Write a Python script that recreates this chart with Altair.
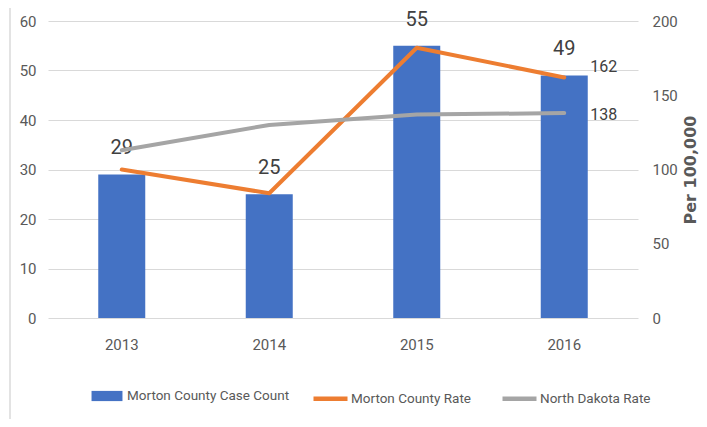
import altair as alt
import pandas as pd

years = ["2013", "2014", "2015", "2016"]
case_counts = [29, 25, 55, 49]
morton_rate = [100, 84, 182, 162]
nd_rate = [113, 130, 137, 138]

s_bar = "Morton County Case Count"
s_mc = "Morton County Rate"
s_nd = "North Dakota Rate"

bar_df = pd.DataFrame({"year": years, "count": case_counts, "series": s_bar})
line_df = pd.DataFrame({
    "year": years + years,
    "rate": morton_rate + nd_rate,
    "series": [s_mc] * 4 + [s_nd] * 4,
})

FONT = "Roboto"
GRAY = "#595959"

x_enc = alt.X("year:N", title=None,
              scale=alt.Scale(paddingInner=0.68, paddingOuter=0.34),
              axis=alt.Axis(labelAngle=0, labelPadding=19, domain=False, ticks=False, grid=False))

left_axis = alt.Axis(values=[0, 10, 20, 30, 40, 50, 60], grid=True, labelPadding=12,
                     domain=False, ticks=False, title=None)
y_left = alt.Y("count:Q", scale=alt.Scale(domain=[0, 60], nice=False), axis=left_axis)

right_axis = alt.Axis(values=[0, 50, 100, 150, 200], grid=False, orient="right", labelPadding=14,
                      domain=False, ticks=False, title="Per 100,000",
                      titleFont="DejaVu Sans", titleFontWeight="bold", titleFontSize=16,
                      titleColor=GRAY, titleAngle=270, titleBaseline="top", titlePadding=5)
y_right = alt.Y("rate:Q", scale=alt.Scale(domain=[0, 200], nice=False), axis=right_axis)

fill_enc = alt.Fill(
    "series:N",
    scale=alt.Scale(domain=[s_bar], range=["#4472C4"]),
    legend=alt.Legend(
        title=None, orient="none", direction="horizontal", legendX=42, legendY=358,
        symbolType="M-0.91,-0.3L0.91,-0.3L0.91,0.3L-0.91,0.3Z", symbolSize=1156,
        symbolStrokeWidth=0, symbolOpacity=1, labelOffset=3, padding=0, labelLimit=400,
        labelFont=FONT, labelFontSize=13.5, labelColor=GRAY,
    ),
)
stroke_enc = alt.Stroke(
    "series:N",
    scale=alt.Scale(domain=[s_mc, s_nd], range=["#ED7D31", "#A5A5A5"]),
    legend=alt.Legend(
        title=None, orient="none", direction="horizontal", legendX=263, legendY=358,
        symbolType="stroke", symbolSize=1156, symbolStrokeWidth=4.5, columnPadding=22,
        labelOffset=1, padding=0, labelLimit=400,
        labelFont=FONT, labelFontSize=13.5, labelColor=GRAY,
    ),
)

bars = alt.Chart(bar_df).mark_bar(size=47).encode(x=x_enc, y=y_left, fill=fill_enc)
bar_text = alt.Chart(bar_df).mark_text(dy=-26, font=FONT, fontSize=20, color="#404040",
                                       baseline="middle").encode(
    x=x_enc, y=y_left, text="count:Q")
frame = alt.Chart(bar_df).mark_rule(color="#E3E3E3", strokeWidth=1.5).encode(
    x=alt.value(-38), y=alt.value(-21), y2=alt.value(406))

lines = alt.Chart(line_df).mark_line(strokeWidth=4, strokeCap="round", strokeJoin="round").encode(
    x=x_enc, y=y_right, stroke=stroke_enc, detail="series:N")

end_mc = alt.Chart(line_df).transform_filter(
    (alt.datum.year == "2016") & (alt.datum.series == s_mc)
).mark_text(align="left", dx=26, dy=-10, font=FONT, fontSize=16, color="#404040",
            baseline="middle").encode(x=x_enc, y=y_right, text="rate:Q")
end_nd = alt.Chart(line_df).transform_filter(
    (alt.datum.year == "2016") & (alt.datum.series == s_nd)
).mark_text(align="left", dx=26, dy=2, font=FONT, fontSize=16, color="#404040",
            baseline="middle").encode(x=x_enc, y=y_right, text="rate:Q")

left = alt.layer(frame, bars, bar_text)
right = alt.layer(lines, end_mc, end_nd)

chart = alt.layer(left, right).resolve_scale(y="independent").properties(
    width=590, height=297,
    background="white",
    autosize=alt.AutoSizeParams(type="none"),
    padding={"left": 40, "top": 13, "right": 61, "bottom": 101},
).configure_view(stroke=None).configure_axis(
    labelFont=FONT, labelFontSize=15, labelColor=GRAY, gridColor="#D9D9D9", gridWidth=1
)

chart.save("out.html", embed_options={"renderer": "svg", "actions": False})
